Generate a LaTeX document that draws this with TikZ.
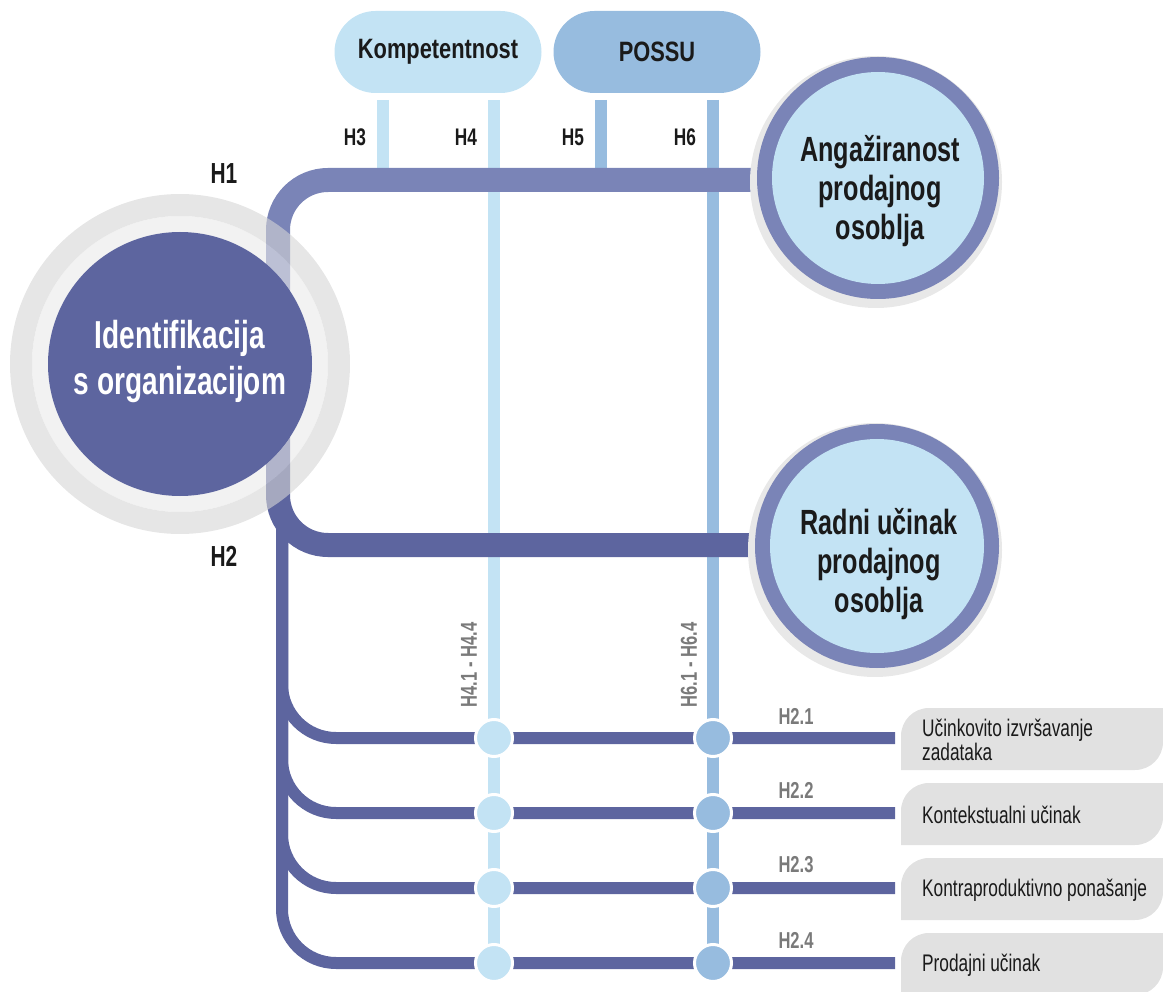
\documentclass[tikz,border=0pt]{standalone}
\usepackage{fontspec}
\newfontfamily\cf[FakeStretch=0.72]{Liberation Sans}
\newfontfamily\cfw[FakeStretch=0.78]{Liberation Sans}
\definecolor{dk}{HTML}{5D659F}
\definecolor{lp}{HTML}{7A84B7}
\definecolor{lb}{HTML}{C3E3F4}
\definecolor{mb}{HTML}{97BCDF}
\definecolor{ringA}{HTML}{D5D5D5}
\definecolor{ringB}{HTML}{E9E9E9}
\definecolor{shadow}{HTML}{E8E8E8}
\definecolor{boxg}{HTML}{E1E1E1}
\definecolor{labg}{HTML}{7A7A7A}
\definecolor{txt}{HTML}{1A1A1A}
\tikzset{
  colline/.style={line width=12pt},
  thickline/.style={line width=24pt, rounded corners=50pt},
  branch/.style={line width=12pt, dk, rounded corners=54pt},
  dot/.style={circle, draw=white, line width=3pt, minimum size=37pt, inner sep=0pt},
  pill/.style={rounded corners=41pt, minimum width=207pt, minimum height=82pt, inner sep=0pt, text=txt, font=\cfw\bfseries\fontsize{28}{28}\selectfont},
  hbig/.style={text=txt, inner sep=0pt, font=\cf\bfseries\fontsize{29}{29}\selectfont},
  hlab/.style={text=txt, inner sep=0pt, font=\cf\bfseries\fontsize{24}{24}\selectfont},
  glab/.style={text=labg, inner sep=0pt, font=\cf\bfseries\fontsize{23}{23}\selectfont},
  boxtxt/.style={text=txt, anchor=west, align=left, inner sep=0pt, font=\cf\fontsize{24}{20}\selectfont},
  bigtxt/.style={text=txt, align=center, inner sep=0pt, font=\cf\bfseries\fontsize{35}{39}\selectfont},
  gbox/.style={fill=boxg}
}
\begin{document}
\begin{tikzpicture}[x=1pt,y=-1pt]
\useasboundingbox (0,0) rectangle (1163,992);
\clip (0,0) rectangle (1163,992);

% coordinates
\coordinate (c3t) at (383,100);
\coordinate (c3b) at (383,179);
\coordinate (c4t) at (494,100);
\coordinate (c4b) at (494,963);
\coordinate (c5t) at (601,100);
\coordinate (c5b) at (601,179);
\coordinate (c6t) at (713,100);
\coordinate (c6b) at (713,963);
\coordinate (hub) at (278,364);
\coordinate (h1c) at (278,180);
\coordinate (h1e) at (820,180);
\coordinate (h2c) at (278,545);
\coordinate (h2e) at (820,545);
\coordinate (bt) at (282,480);

% columns
\draw[colline, lb] (c3t) -- (c3b);
\draw[colline, lb] (c4t) -- (c4b);
\draw[colline, mb] (c5t) -- (c5b);
\draw[colline, mb] (c6t) -- (c6b);

% branches
\foreach \y/\n in {738/1,813/2,888/3,963/4}{
  \coordinate (bc\n) at (282,\y);
  \coordinate (be\n) at (895,\y);
  \draw[branch] (bt) -- (bc\n) -- (be\n);
}

% main paths
\draw[thickline, lp] (hub) -- (h1c) -- (h1e);
\draw[thickline, dk] (hub) -- (h2c) -- (h2e);

% big circle rings
\fill[ringA, opacity=0.6, even odd rule] (180,364) circle[radius=170pt] (180,364) circle[radius=148pt];
\fill[ringB, opacity=0.6, even odd rule] (180,364) circle[radius=148pt] (180,364) circle[radius=132pt];
\node[circle, fill=dk, minimum size=264pt, inner sep=0pt] (ident) at (180,364) {};
\node[align=center, text=white, inner sep=0pt, font=\cf\bfseries\fontsize{39}{46}\selectfont] (identt) at (180,362) {Identifikacija\\s organizacijom};

% right circles
\fill[shadow] (876,182) circle[radius=126pt];
\fill[lp] (878,178) circle[radius=121pt];
\node[circle, fill=lb, minimum size=212pt, inner sep=0pt] (ang) at (878,178) {};
\node[bigtxt] (angt) at (880,191) {Anga\v{z}iranost\\prodajnog\\osoblja};

\fill[shadow] (875,550) circle[radius=127pt];
\fill[lp] (877,546) circle[radius=122pt];
\node[circle, fill=lb, minimum size=214pt, inner sep=0pt] (rad) at (877,546) {};
\node[bigtxt] (radt) at (879,564) {Radni u\v{c}inak\\prodajnog\\osoblja};

% dots
\foreach \y/\n in {738/1,813/2,888/3,963/4}{
  \node[dot, fill=lb] (d4\n) at (494,\y) {};
  \node[dot, fill=mb] (d6\n) at (713,\y) {};
}

% pills
\node[pill, fill=lb] (komp) at (438,52) {Kompetentnost};
\node[pill, fill=mb] (possu) at (657,52) {POSSU};

% grey boxes
\foreach \t/\n in {708/1,783/2,858/3,933/4}{
  \pgfmathsetmacro{\b}{\t+62}
  \fill[gbox] (901,\b) -- (901,\t+28) .. controls (901,\t+12.5) and (913.5,\t) .. (929,\t)
    -- (1163,\t) -- (1163,\b-28) .. controls (1163,\b-12.5) and (1150.5,\b) .. (1135,\b) -- cycle;
}

% labels
\node[hbig] (l1) at (224,174) {H1};
\node[hbig] (l2) at (224,556) {H2};
\node[hlab] (l3) at (355,137) {H3};
\node[hlab] (l4) at (466,137) {H4};
\node[hlab] (l5) at (573,137) {H5};
\node[hlab] (l6) at (685,137) {H6};

\node[glab, rotate=90] (r4) at (469,665) {H4.1 - H4.4};
\node[glab, rotate=90] (r6) at (689,665) {H6.1 - H6.4};

\node[glab] (g1) at (796,716) {H2.1};
\node[glab] (g2) at (796,790) {H2.2};
\node[glab] (g3) at (796,865) {H2.3};
\node[glab] (g4) at (796,940) {H2.4};

\node[boxtxt] (t1) at (922,740) {U\v{c}inkovito izvr\v{s}avanje\\zadataka};
\node[boxtxt] (t2) at (922,815) {Kontekstualni u\v{c}inak};
\node[boxtxt] (t3) at (922,890) {Kontraproduktivno pona\v{s}anje};
\node[boxtxt] (t4) at (922,965) {Prodajni u\v{c}inak};
\end{tikzpicture}
\end{document}
